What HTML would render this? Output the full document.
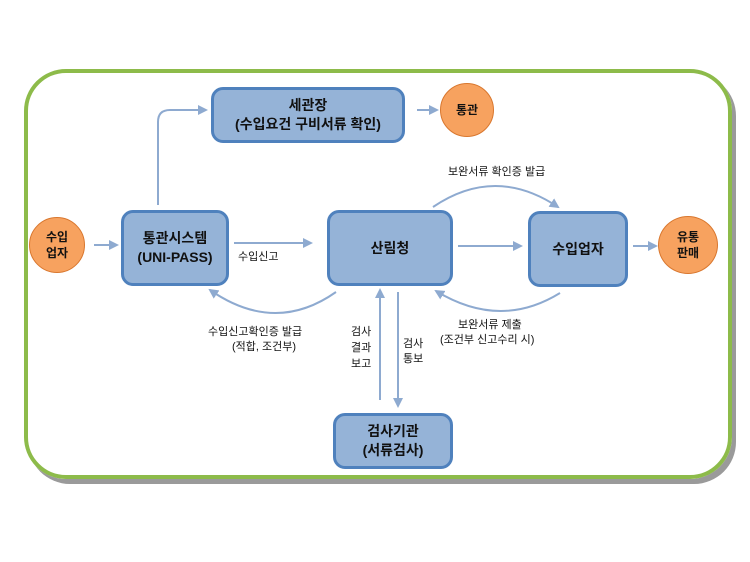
<!DOCTYPE html>
<html><head><meta charset="utf-8"><style>
html,body{margin:0;padding:0;background:#fff;}
body{width:750px;height:562px;position:relative;overflow:hidden;font-family:"Liberation Sans","Noto Sans CJK KR","NanumGothic",sans-serif;}
.frame{position:absolute;left:24px;top:69px;width:700px;height:402px;border:4px solid #8dbb4a;border-radius:42px;box-shadow:4px 5px 0 #9a9a9a;}
.box{position:absolute;background:#95b3d7;border:3px solid #4f81bd;border-radius:12px;box-sizing:border-box;display:flex;align-items:center;justify-content:center;text-align:center;font-weight:bold;font-size:14px;line-height:19px;color:#111;}
.circ{position:absolute;background:#f7a25f;border:1.5px solid #d9772e;border-radius:50%;box-sizing:border-box;display:flex;align-items:center;justify-content:center;text-align:center;font-weight:bold;font-size:12px;line-height:16px;color:#111;}
.t{position:absolute;font-size:11px;color:#111;white-space:nowrap;line-height:14px;}
svg{position:absolute;left:0;top:0;}
</style></head><body>
<div class="frame"></div>
<svg width="750" height="562">
<defs><marker id="a" markerWidth="10" markerHeight="10" refX="8" refY="5" orient="auto" markerUnits="userSpaceOnUse"><path d="M0,0 L10,5 L0,10 z" fill="#8eaad0"/></marker></defs>
<g stroke="#8eaad0" stroke-width="2" fill="none" marker-end="url(#a)">
<line x1="94" y1="245" x2="117" y2="245"/>
<line x1="234" y1="243" x2="311" y2="243"/>
<line x1="458" y1="246" x2="521" y2="246"/>
<line x1="633" y1="246" x2="656" y2="246"/>
<line x1="417" y1="110" x2="437" y2="110"/>
<path d="M158,205 L158,122 Q158,110 170,110 L206,110"/>
<line x1="380" y1="400" x2="380" y2="290"/>
<line x1="398" y1="292" x2="398" y2="406"/>
<path d="M433,207 Q495,165 558,207"/>
<path d="M560,293 Q500,330 436,291"/>
<path d="M336,292 Q275,335 210,290"/>
</g>
</svg>
<div class="box" style="left:211px;top:87px;width:194px;height:56px;">세관장<br>(수입요건 구비서류 확인)</div>
<div class="box" style="left:121px;top:210px;width:108px;height:76px;">통관시스템<br>(UNI-PASS)</div>
<div class="box" style="left:327px;top:210px;width:126px;height:76px;">산림청</div>
<div class="box" style="left:528px;top:211px;width:100px;height:76px;">수입업자</div>
<div class="box" style="left:333px;top:413px;width:120px;height:56px;">검사기관<br>(서류검사)</div>
<div class="circ" style="left:29px;top:217px;width:56px;height:56px;">수입<br>업자</div>
<div class="circ" style="left:440px;top:83px;width:54px;height:54px;">통관</div>
<div class="circ" style="left:658px;top:216px;width:60px;height:58px;">유통<br>판매</div>
<div class="t" style="left:238px;top:250px;">수입신고</div>
<div class="t" style="left:448px;top:165px;">보완서류 확인증 발급</div>
<div class="t" style="left:208px;top:325px;">수입신고확인증 발급</div>
<div class="t" style="left:232px;top:340px;">(적합, 조건부)</div>
<div class="t" style="left:351px;top:324px;line-height:16px;">검사<br>결과<br>보고</div>
<div class="t" style="left:403px;top:337px;line-height:15px;">검사<br>통보</div>
<div class="t" style="left:458px;top:318px;">보완서류 제출</div>
<div class="t" style="left:440px;top:333px;">(조건부 신고수리 시)</div>
</body></html>
